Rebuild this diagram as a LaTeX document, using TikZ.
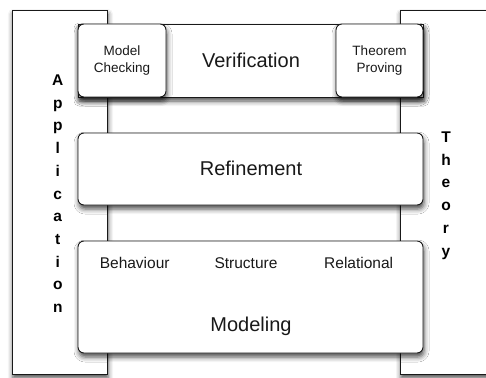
\documentclass[tikz,border=0pt]{standalone}
\usepackage{fontspec}
\setmainfont{Liberation Sans}
\usetikzlibrary{shadows.blur}

\tikzset{
  softshadow/.style={blur shadow={shadow xshift=1pt, shadow yshift=-4pt,
      shadow blur radius=5pt, shadow opacity=70}},
  pillar/.style={draw=black!90, line width=0.9pt, fill=white, inner sep=0pt,
      softshadow},
  layer/.style={draw=black!90, line width=0.9pt, fill=white, inner sep=0pt,
      rounded corners=6pt, softshadow},
  flatbox/.style={draw=black!90, line width=0.9pt, fill=white, inner sep=0pt,
      softshadow},
  bigtext/.style={font=\fontsize{20}{24}\selectfont, text=black!90},
  midtext/.style={font=\fontsize{15.5}{18}\selectfont, text=black!90},
  smalltext/.style={font=\fontsize{13.5}{16.6}\selectfont, text=black!90,
      align=center},
  sidetext/.style={font=\fontsize{15.5}{18}\selectfont\bfseries, text=black,
      anchor=base, inner sep=0pt},
}

\begin{document}
\begin{tikzpicture}[x=1pt, y=-1pt]
\useasboundingbox (0,0) rectangle (486,377);
\clip (0,0) rectangle (486,377);

% the two side pillars
\node[pillar, minimum width=95pt, minimum height=364pt] (application) at (59.5,192) {};
\node[pillar, minimum width=130pt, minimum height=364pt] (theory) at (465,192) {};

% side captions, one letter per line
\foreach \ch [count=\i] in {A,p,p,l,i,c,a,t,i,o,n}
  \node[sidetext] (app\i) at (57.8, 62.8+22.7*\i) {\ch};
\foreach \ch [count=\i] in {T,h,e,o,r,y}
  \node[sidetext] (thy\i) at (446, 119.8+22.7*\i) {\ch};

% verification layer
\node[flatbox, minimum width=345pt, minimum height=73pt] (verification) at (250.5,60.5) {};
\node[bigtext] (vlabel) at (251,60.5) {Verification};
\node[layer, minimum width=88pt, minimum height=73pt, smalltext] (mc) at (122,60.5)
  {Model\\Checking};
\node[layer, minimum width=87pt, minimum height=73pt, smalltext] (tp) at (379.5,60.5)
  {Theorem\\Proving};

% refinement layer
\node[layer, minimum width=345pt, minimum height=72pt] (refinement) at (250.5,169) {};
\node[bigtext] (rlabel) at (251,168) {Refinement};

% modeling layer
\node[layer, minimum width=345pt, minimum height=112pt] (modeling) at (250.5,297) {};
\node[midtext, anchor=base] (behaviour) at (134.7,268) {Behaviour};
\node[midtext, anchor=base] (structure) at (246,268) {Structure};
\node[midtext, anchor=base] (relational) at (358.7,268) {Relational};
\node[bigtext, anchor=base] (mlabel) at (251,331) {Modeling};
\end{tikzpicture}
\end{document}
